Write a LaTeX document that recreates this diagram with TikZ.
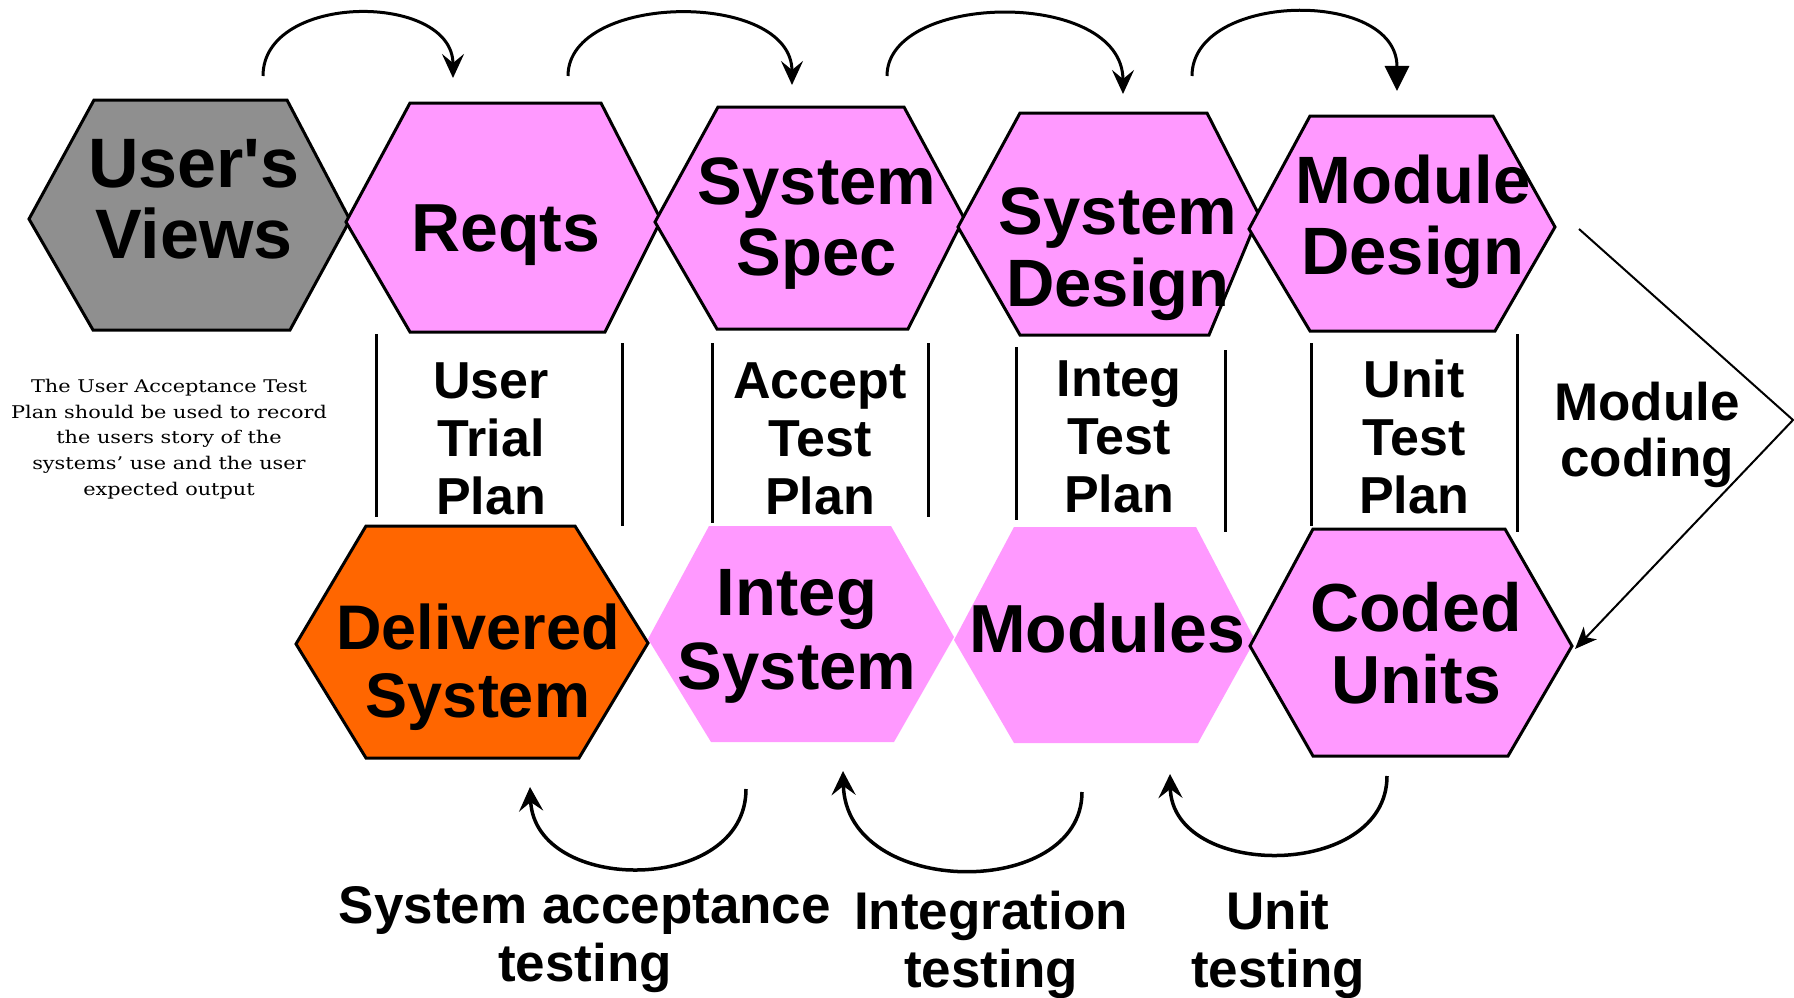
\documentclass[tikz,border=0pt]{standalone}
\usepackage{fontspec}
\setmainfont{Liberation Sans}
\newfontfamily\hsans{Liberation Sans}
\newfontfamily\smallserif{DejaVu Serif}[FakeStretch=1.19]
\usetikzlibrary{arrows.meta}
\definecolor{hpink}{RGB}{255,153,255}
\definecolor{hgray}{RGB}{143,143,143}
\definecolor{horange}{RGB}{255,102,0}
\newcommand\hfont[2]{\hsans\bfseries\fontsize{#1}{#2}\selectfont\lineskiplimit=-1000pt\relax}
\newcommand\ls{\rule[-0.25em]{0pt}{1.216em}}
\tikzset{
  hexb/.style={draw=black, line width=3pt, line join=miter},
  txt/.style={inner sep=0pt, align=center, text=black},
  sepline/.style={line width=3pt},
  toparr/.style={line width=3pt, -{Stealth[length=24pt,width=22pt,inset=9pt]}},
  toparrt/.style={line width=3pt, -{Triangle[length=25pt,width=24pt]}},
  botarr/.style={line width=3.5pt, -{Stealth[length=24pt,width=24pt,inset=9pt]}},
  codearr/.style={line width=2pt, line join=miter, -{Stealth[length=22pt,width=18pt,inset=6pt]}}
}
\begin{document}
\begin{tikzpicture}[x=1pt,y=-1pt]
\useasboundingbox (0,0) rectangle (1794,998);
\fill[white] (0,0) rectangle (1794,998);

% ---- top row hexagons
\filldraw[hexb, fill=hgray] (94,100) -- (287,100) -- (350,220) -- (290,330) -- (93,330) -- (29,219) -- cycle;
\filldraw[hexb, fill=hpink] (410,103) -- (601,103) -- (661,220) -- (605,332) -- (410,332) -- (346,222) -- cycle;
\filldraw[hexb, fill=hpink] (718,107) -- (904,107) -- (964,218) -- (908,329) -- (717,329) -- (655,222) -- cycle;
\filldraw[hexb, fill=hpink] (1020,113) -- (1207,113) -- (1259,215) -- (1209,335) -- (1020,335) -- (958,227) -- cycle;
\filldraw[hexb, fill=hpink] (1310,116) -- (1493,116) -- (1555,227) -- (1495,331) -- (1310,331) -- (1249,229) -- cycle;

% ---- bottom row hexagons
\filldraw[hexb, fill=horange] (366,526) -- (575,526) -- (648,643) -- (579,758) -- (366,758) -- (296,644) -- cycle;
\fill[hpink] (709,526) -- (891,526) -- (954,637) -- (894,742) -- (711,742) -- (648,639) -- cycle;
\fill[hpink] (1014,527) -- (1196,527) -- (1255,640) -- (1198,743) -- (1014,743) -- (954,640) -- cycle;
\filldraw[hexb, fill=hpink] (1313,529) -- (1505,529) -- (1572,646) -- (1508,756) -- (1313,756) -- (1250,646) -- cycle;

% ---- hexagon texts
\node[txt, font=\hfont{70}{71}] (uv) at (194,198) {\ls User's\\\ls Views};
\node[txt, font=\hfont{68}{71}] (rq) at (506,227) {\ls Reqts};
\node[txt, font=\hfont{67}{71}] (ss) at (817,216) {\ls System\\\ls Spec};
\node[txt, font=\hfont{67}{72}] (sd) at (1118,247) {\ls System\\\ls Design};
\node[txt, font=\hfont{67}{71}] (md) at (1413,215) {\ls Module\\\ls Design};
\node[txt, font=\hfont{63}{68}] (ds) at (478,661) {\ls Delivered\\\ls System};
\node[txt, font=\hfont{67}{74}] (is) at (797,629) {\ls Integ\\\ls System};
\node[txt, font=\hfont{68}{71}] (mo) at (1107,628) {\ls Modules};
\node[txt, font=\hfont{68}{72}] (cu) at (1416,643) {\ls Coded\\\ls Units};

% ---- test plan texts
\node[txt, font=\hfont{52}{58}] (utp) at (491,438) {\ls User\\\ls Trial\\\ls Plan};
\node[txt, font=\hfont{52}{58}] (atp) at (820,438) {\ls Accept\\\ls Test\\\ls Plan};
\node[txt, font=\hfont{52}{58}] (itp) at (1119,436) {\ls Integ\\\ls Test\\\ls Plan};
\node[txt, font=\hfont{52}{58}] (untp) at (1414,437) {\ls Unit\\\ls Test\\\ls Plan};
\node[txt, font=\hfont{53}{56}] (mc) at (1647,430) {\ls Module\\\ls coding};

% ---- note
\node[txt, font=\smallserif\fontsize{17.5}{25.7}\selectfont] (note) at (169,439)
  {The User Acceptance Test\\Plan should be used to record\\the users story of the\\systems’ use and the user\\expected output};

% ---- separator lines
\coordinate (l1a) at (376,334); \coordinate (l1b) at (376,517);
\coordinate (l2a) at (622,343); \coordinate (l2b) at (622,526);
\coordinate (l3a) at (712,343); \coordinate (l3b) at (712,523);
\coordinate (l4a) at (928,343); \coordinate (l4b) at (928,517);
\coordinate (l5a) at (1016,347); \coordinate (l5b) at (1016,520);
\coordinate (l6a) at (1225,350); \coordinate (l6b) at (1225,532);
\coordinate (l7a) at (1311,343); \coordinate (l7b) at (1311,526);
\coordinate (l8a) at (1517,334); \coordinate (l8b) at (1517,532);
\foreach \i in {1,...,8} { \draw[sepline] (l\i a) -- (l\i b); }

% ---- top arrows
\coordinate (t1s) at (263,76);  \coordinate (t1e) at (453,78);
\coordinate (t2s) at (568,76);  \coordinate (t2e) at (792,85);
\coordinate (t3s) at (887,76);  \coordinate (t3e) at (1123,94);
\coordinate (t4s) at (1192,76); \coordinate (t4e) at (1397,91);
\draw[toparr] (t1s) .. controls (263,-8) and (453,-8) .. (t1e);
\draw[toparr] (t2s) .. controls (568,-8) and (792,-10) .. (t2e);
\draw[toparr] (t3s) .. controls (887,-8) and (1123,-12) .. (t3e);
\draw[toparrt] (t4s) .. controls (1192,-8) and (1397,-12) .. (t4e);

% ---- module coding arrow
\coordinate (mcs) at (1579,229); \coordinate (mcp) at (1793,420); \coordinate (mce) at (1575,649);
\draw[codearr] (mcs) -- (mcp) -- (mce);

% ---- bottom arrows
\coordinate (b1s) at (746,789);  \coordinate (b1e) at (530,787);
\coordinate (b2s) at (1082,792); \coordinate (b2e) at (843,771);
\coordinate (b3s) at (1387,776); \coordinate (b3e) at (1170,774);
\draw[botarr] (b1s) .. controls (746,895) and (535,895) .. (b1e);
\draw[botarr] (b2s) .. controls (1082,900) and (846,899) .. (b2e);
\draw[botarr] (b3s) .. controls (1387,880) and (1172,880) .. (b3e);

% ---- bottom labels
\node[txt, font=\hfont{53}{58}] (sat) at (585,934) {\ls System acceptance\\\ls testing};
\node[txt, font=\hfont{53}{58}] (itt) at (991,940) {\ls Integration\\\ls testing};
\node[txt, font=\hfont{53}{58}] (utt) at (1278,940) {\ls Unit\\\ls testing};
\end{tikzpicture}
\end{document}
